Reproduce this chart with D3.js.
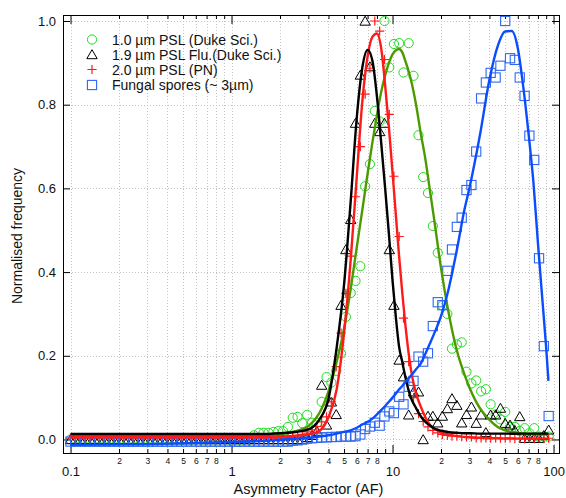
<!DOCTYPE html>
<html>
<head>
<meta charset="utf-8">
<script src="https://cdn.jsdelivr.net/npm/d3@7"></script>
<style>
  body { margin: 0; background: #fff; }
  svg { display: block; }
  text { font-family: "Liberation Sans", Arial, sans-serif; fill: #111; }
</style>
</head>
<body>
<svg id="chart" width="566" height="498"></svg>
<script>
// Histogram bin centres (asymmetry factor), log-spaced by 0.03 decades
const binAF = [
  0.100, 0.107, 0.115, 0.123, 0.132, 0.141, 0.151, 0.162, 0.174, 0.186,
  0.200, 0.214, 0.229, 0.245, 0.263, 0.282, 0.302, 0.324, 0.347, 0.372,
  0.398, 0.427, 0.457, 0.490, 0.525, 0.562, 0.603, 0.646, 0.692, 0.741,
  0.794, 0.851, 0.912, 0.977, 1.05, 1.12, 1.20, 1.29, 1.38, 1.48,
  1.58, 1.70, 1.82, 1.95, 2.09, 2.24, 2.40, 2.57, 2.75, 2.95,
  3.16, 3.39, 3.63, 3.89, 4.17, 4.47, 4.79, 5.13, 5.50, 5.89,
  6.31, 6.76, 7.24, 7.76, 8.32, 8.91, 9.55, 10.2, 11.0, 11.7,
  12.6, 13.5, 14.5, 15.5, 16.6, 17.8, 19.1, 20.4, 21.9, 23.4,
  25.1, 26.9, 28.8, 30.9, 33.1, 35.5, 38.0, 40.7, 43.7, 46.8,
  50.1, 53.7, 57.5, 61.7, 66.1, 70.8, 75.9, 81.3, 87.1, 93.3
];

// Normalised frequency per bin: 1.0 um PSL (Duke Sci.)
const psl10 = [
  0, 0, 0, 0, 0, 0, 0, 0, 0, 0,
  0, 0, 0, 0, 0, 0, 0, 0, 0, 0,
  0, 0, 0, 0, 0, 0, 0, 0, 0, 0,
  0, 0, 0, 0, 0, 0, 0, 0, 0.010, 0.016,
  0.016, 0.016, 0.018, 0.020, 0.020, 0.030, 0.052, 0.054, 0.039, 0.059,
  0.040, 0.040, 0.090, 0.149, 0.136, 0.164, 0.206, 0.293, 0.350, 0.379,
  0.414, 0.605, 0.658, 0.785, 0.760, 1.000, 0.889, 0.945, 0.947, 0.877,
  0.947, 0.869, 0.727, 0.627, 0.589, 0.510, 0.446, 0.320, 0.300, 0.217,
  0.227, 0.232, 0.162, 0.134, 0.141, 0.115, 0.120, 0.084, 0.060, 0.048,
  0.066, 0.030, 0.030, 0.020, 0.027, 0.015, 0.027, 0.007, 0.007, 0.007
];

// 1.9 um PSL Flu. (Duke Sci.)
const psl19 = [
  0, 0, 0, 0, 0, 0, 0, 0, 0, 0,
  0, 0, 0, 0, 0, 0, 0, 0, 0, 0,
  0, 0, 0, 0, 0, 0, 0, 0, 0, 0,
  0, 0, 0, 0, 0, 0, 0, 0, 0, 0,
  0, 0, 0, 0, 0, 0, 0, 0, 0, 0.005,
  0.010, 0.020, 0.130, 0.035, 0.090, 0.060, 0.321, 0.454, 0.526, 0.756,
  0.871, 1.000, 0.891, 0.756, 0.736, 0.756, 0.454, 0.321, 0.190, 0.150,
  0.059, 0.114, 0.114, 0.000, 0.056, 0.056, 0.040, 0.056, 0.074, 0.098,
  0.082, 0.040, 0.060, 0.078, 0.039, 0.059, 0.017, 0.059, 0.059, 0.075,
  0.039, 0.035, 0.022, 0.055, 0.003, 0.003, 0.003, 0.003, 0.010, 0.023
];

// 2.0 um PSL (PN)
const psl20 = [
  0.003, 0.003, 0.003, 0.003, 0.003, 0.003, 0.003, 0.003, 0.003, 0.003,
  0.003, 0.003, 0.003, 0.003, 0.003, 0.003, 0.003, 0.003, 0.003, 0.003,
  0.003, 0.003, 0.003, 0.003, 0.003, 0.003, 0.003, 0.003, 0.003, 0.003,
  0.003, 0.003, 0.003, 0.003, 0.003, 0.003, 0.003, 0.003, 0.003, 0.003,
  0.003, 0.003, 0.003, 0.003, 0.003, 0.005, 0.007, 0.009, 0.012, 0.018,
  0.023, 0.031, 0.042, 0.054, 0.090, 0.174, 0.254, 0.349, 0.438, 0.580,
  0.700, 0.825, 0.887, 1.000, 0.976, 0.908, 0.777, 0.629, 0.485, 0.290,
  0.186, 0.100, 0.062, 0.043, 0.030, 0.022, 0.016, 0.012, 0.010, 0.008,
  0.008, 0.007, 0.006, 0.006, 0.004, 0.004, 0.004, 0.003, 0.004, 0.003,
  0.003, 0.004, 0.002, 0.003, 0.002, 0.003, 0.002, 0.003, 0.002, 0.003
];

// Fungal spores (~3 um)
const fungal = [
  -0.005, -0.005, -0.005, -0.005, -0.005, -0.005, -0.005, -0.005, -0.005, -0.005,
  -0.005, -0.005, -0.005, -0.005, -0.005, -0.005, -0.005, -0.005, -0.005, -0.005,
  -0.005, -0.005, -0.005, -0.005, -0.005, -0.005, -0.005, -0.005, -0.005, -0.005,
  -0.005, -0.005, -0.005, -0.005, -0.005, -0.005, -0.005, -0.005, -0.005, -0.005,
  -0.005, -0.005, -0.005, -0.005, -0.005, -0.005, -0.003, -0.002, 0.000, 0.002,
  0.003, 0.004, 0.005, 0.005, 0.006, 0.006, 0.007, 0.007, 0.007, 0.008,
  0.012, 0.025, 0.031, 0.040, 0.033, 0.055, 0.067, 0.063, 0.102, 0.084,
  0.126, 0.140, 0.198, 0.186, 0.206, 0.271, 0.328, 0.321, 0.403, 0.454,
  0.508, 0.530, 0.596, 0.608, 0.688, 0.815, 0.853, 0.876, 0.865, 0.893,
  1.000, 0.911, 0.907, 0.865, 0.821, 0.726, 0.668, 0.433, 0.223, 0.056
];

// Fitted distributions, sampled along AF
const fitAF = [
  0.1, 0.3, 1, 1.5, 2, 2.5, 3, 3.5, 4, 4.5,
  5, 5.5, 6, 6.5, 7, 7.5, 8, 8.5, 9, 9.5,
  10, 10.5, 11, 11.5, 12, 13, 14, 15, 16, 17,
  18, 20, 22, 25, 28, 30, 35, 40, 45, 50,
  55, 60, 65, 70, 75, 80, 85, 90, 93
];
const fit10 = [
  0.008, 0.008, 0.008, 0.011, 0.013, 0.020, 0.032, 0.062, 0.115, 0.185,
  0.265, 0.360, 0.460, 0.550, 0.635, 0.710, 0.775, 0.830, 0.870, 0.900,
  0.920, 0.930, 0.933, 0.925, 0.905, 0.860, 0.800, 0.730, 0.670, 0.600,
  0.535, 0.410, 0.315, 0.215, 0.155, 0.125, 0.074, 0.047, 0.030, 0.022,
  0.018, 0.016, 0.014, 0.013, 0.013, 0.012, 0.012, 0.012, 0.012
];
const fit19 = [
  0.013, 0.013, 0.013, 0.013, 0.015, 0.018, 0.024, 0.047, 0.097, 0.220,
  0.370, 0.570, 0.770, 0.890, 0.931, 0.905, 0.820, 0.710, 0.600, 0.490,
  0.380, 0.290, 0.220, 0.185, 0.150, 0.100, 0.075, 0.055, 0.042, 0.034,
  0.027, 0.021, 0.018, 0.016, 0.015, 0.015, 0.014, 0.014, 0.014, 0.014,
  0.014, 0.014, 0.014, 0.014, 0.014, 0.014, 0.014, 0.014, 0.014
];
const fit20 = [
  0.006, 0.006, 0.006, 0.006, 0.007, 0.009, 0.012, 0.020, 0.053, 0.120,
  0.254, 0.430, 0.630, 0.810, 0.915, 0.962, 0.970, 0.935, 0.846, 0.745,
  0.638, 0.534, 0.435, 0.350, 0.276, 0.168, 0.110, 0.078, 0.053, 0.036,
  0.027, 0.017, 0.012, 0.008, 0.006, 0.005, 0.004, 0.003, 0.003, 0.002,
  0.002, 0.002, 0.002, 0.002, 0.002, 0.002, 0.002, 0.002, 0.002
];
const fitFungal = [
  -0.013, -0.011, -0.006, -0.004, -0.001, 0.002, 0.004, 0.007, 0.010, 0.014,
  0.018, 0.022, 0.028, 0.036, 0.042, 0.050, 0.060, 0.070, 0.080, 0.090,
  0.100, 0.110, 0.120, 0.128, 0.137, 0.152, 0.168, 0.182, 0.205, 0.228,
  0.250, 0.295, 0.350, 0.450, 0.550, 0.600, 0.730, 0.860, 0.940, 0.975,
  0.976, 0.935, 0.840, 0.730, 0.615, 0.470, 0.340, 0.220, 0.140
];

// Axis ticks
const xMajorTicks = [0.1, 1, 10, 100];
const xMinorTicks = [0.2, 0.3, 0.4, 0.5, 0.6, 0.7, 0.8, 0.9,
                     2, 3, 4, 5, 6, 7, 8, 9,
                     20, 30, 40, 50, 60, 70, 80, 90];
const yTicks = [0, 0.2, 0.4, 0.6, 0.8, 1.0];

const seriesNames = ["1.0 \u00b5m PSL (Duke Sci.)", "1.9 \u00b5m PSL Flu.(Duke Sci.)",
                     "2.0 \u00b5m PSL (PN)", "Fungal spores (~ 3\u00b5m)"];

// ---------------------------------------------------------------
const svg = d3.select("#chart");
const plot = { l: 63, r: 560, t: 15, b: 453 };
const x = d3.scaleLog().domain([0.0898, 109.7]).range([plot.l, plot.r]);
const y = d3.scaleLinear().domain([-0.0323, 1.0143]).range([plot.b, plot.t]);
const px = v => Math.round(v) + 0.5;

svg.append("rect").attr("width", 566).attr("height", 498).attr("fill", "#fff");

// dotted grid
const grid = svg.append("g")
  .attr("stroke", "#c2c2c2").attr("stroke-width", 1).attr("stroke-dasharray", "1,2");
grid.selectAll("line.gx").data(xMajorTicks.concat(xMinorTicks)).join("line")
  .attr("class", "gx")
  .attr("x1", d => px(x(d))).attr("x2", d => px(x(d)))
  .attr("y1", plot.t).attr("y2", plot.b);
grid.selectAll("line.gy").data(yTicks).join("line")
  .attr("class", "gy")
  .attr("x1", plot.l).attr("x2", plot.r)
  .attr("y1", d => px(y(d))).attr("y2", d => px(y(d)));

// axes with inward ticks
function styleAxis(g, size) {
  g.select(".domain").remove();
  g.selectAll("line").attr("stroke", "#000").attr("stroke-width", 1);
  g.selectAll("text").attr("font-family", "Liberation Sans, Arial, sans-serif")
    .attr("font-size", size).attr("fill", "#111");
}
const minorLabel = d => {
  const m = Math.round(d / Math.pow(10, Math.floor(Math.log10(d) + 1e-9)));
  return m <= 8 ? String(m) : "";
};

svg.append("g").attr("transform", `translate(0,${plot.b})`)
  .call(d3.axisBottom(x).tickValues(xMinorTicks).tickSizeInner(-4).tickSizeOuter(0)
    .tickPadding(5).tickFormat(minorLabel))
  .call(g => styleAxis(g, 8.5));
svg.append("g").attr("transform", `translate(0,${plot.b})`)
  .call(d3.axisBottom(x).tickValues(xMajorTicks).tickSizeInner(-8).tickSizeOuter(0)
    .tickPadding(14).tickFormat(d => String(d)))
  .call(g => styleAxis(g, 13));
svg.append("g").attr("transform", `translate(0,${plot.t})`)
  .call(d3.axisTop(x).tickValues(xMinorTicks).tickSizeInner(-4).tickSizeOuter(0).tickFormat(""))
  .call(g => styleAxis(g, 10));
svg.append("g").attr("transform", `translate(0,${plot.t})`)
  .call(d3.axisTop(x).tickValues(xMajorTicks).tickSizeInner(-9).tickSizeOuter(0).tickFormat(""))
  .call(g => styleAxis(g, 10));
svg.append("g").attr("transform", `translate(${plot.l},0)`)
  .call(d3.axisLeft(y).tickValues(yTicks).tickSizeInner(-7).tickSizeOuter(0)
    .tickPadding(7).tickFormat(d3.format(".1f")))
  .call(g => styleAxis(g, 13));
svg.append("g").attr("transform", `translate(${plot.r},0)`)
  .call(d3.axisRight(y).tickValues(yTicks).tickSizeInner(-8).tickSizeOuter(0).tickFormat(""))
  .call(g => styleAxis(g, 10));

// frame
svg.append("rect")
  .attr("x", plot.l + 0.5).attr("y", plot.t + 0.5)
  .attr("width", plot.r - plot.l - 1).attr("height", plot.b - plot.t)
  .attr("fill", "none").attr("stroke", "#000").attr("stroke-width", 1);

// axis titles
svg.append("text").attr("x", (plot.l + plot.r) / 2 - 3).attr("y", 494)
  .attr("text-anchor", "middle").attr("font-size", 14.5).text("Asymmetry Factor (AF)");
svg.append("text").attr("transform", `translate(22,${(plot.t + plot.b) / 2 + 2}) rotate(-90)`)
  .attr("text-anchor", "middle").attr("font-size", 14).text("Normalised frequency");

// marker glyphs
const markers = {
  circle: g => g.append("circle").attr("r", 4.6).attr("fill", "none")
    .attr("stroke", "#1fdc1f").attr("stroke-width", 1),
  triangle: g => g.append("path").attr("d", "M0,-4.8L5.2,4.2L-5.2,4.2Z").attr("fill", "none")
    .attr("stroke", "#000").attr("stroke-width", 1),
  plus: g => g.append("path").attr("d", "M-4.6,0H4.6M0,-4.6V4.6").attr("fill", "none")
    .attr("stroke", "#ff1a1a").attr("stroke-width", 1.2),
  square: g => g.append("rect").attr("x", -4.6).attr("y", -4.6).attr("width", 9.2).attr("height", 9.2)
    .attr("fill", "none").attr("stroke", "#2f68f0").attr("stroke-width", 1.1)
};

const scatter = [
  { values: psl10, marker: "circle" },
  { values: psl19, marker: "triangle" },
  { values: psl20, marker: "plus" },
  { values: fungal, marker: "square" }
];
scatter.forEach(s => {
  const pts = binAF.map((af, i) => [af, s.values[i]]);
  svg.append("g").selectAll("g").data(pts).join("g")
    .attr("transform", d => `translate(${x(d[0])},${y(d[1])})`)
    .each(function () { markers[s.marker](d3.select(this)); });
});

// fitted curves
const fits = [
  { values: fit10, color: "#4c9a00" },
  { values: fit20, color: "#ff1a1a" },
  { values: fit19, color: "#000000" },
  { values: fitFungal, color: "#0a4dff" }
];
const line = d3.line().x(d => x(d[0])).y(d => y(d[1])).curve(d3.curveMonotoneX);
fits.forEach(f => {
  svg.append("path").datum(fitAF.map((af, i) => [af, f.values[i]]))
    .attr("d", line).attr("fill", "none").attr("stroke", f.color)
    .attr("stroke-width", 2.4).attr("stroke-linejoin", "round");
});

// legend
const legendRows = [39.5, 54.5, 69.5, 85];
const legendMarkers = ["circle", "triangle", "plus", "square"];
const legend = svg.append("g");
seriesNames.forEach((name, i) => {
  const g = legend.append("g").attr("transform", `translate(92,${legendRows[i]})`);
  markers[legendMarkers[i]](g);
  g.append("text").attr("x", 20).attr("y", 5).attr("font-size", 14).text(name);
});
</script>
</body>
</html>
